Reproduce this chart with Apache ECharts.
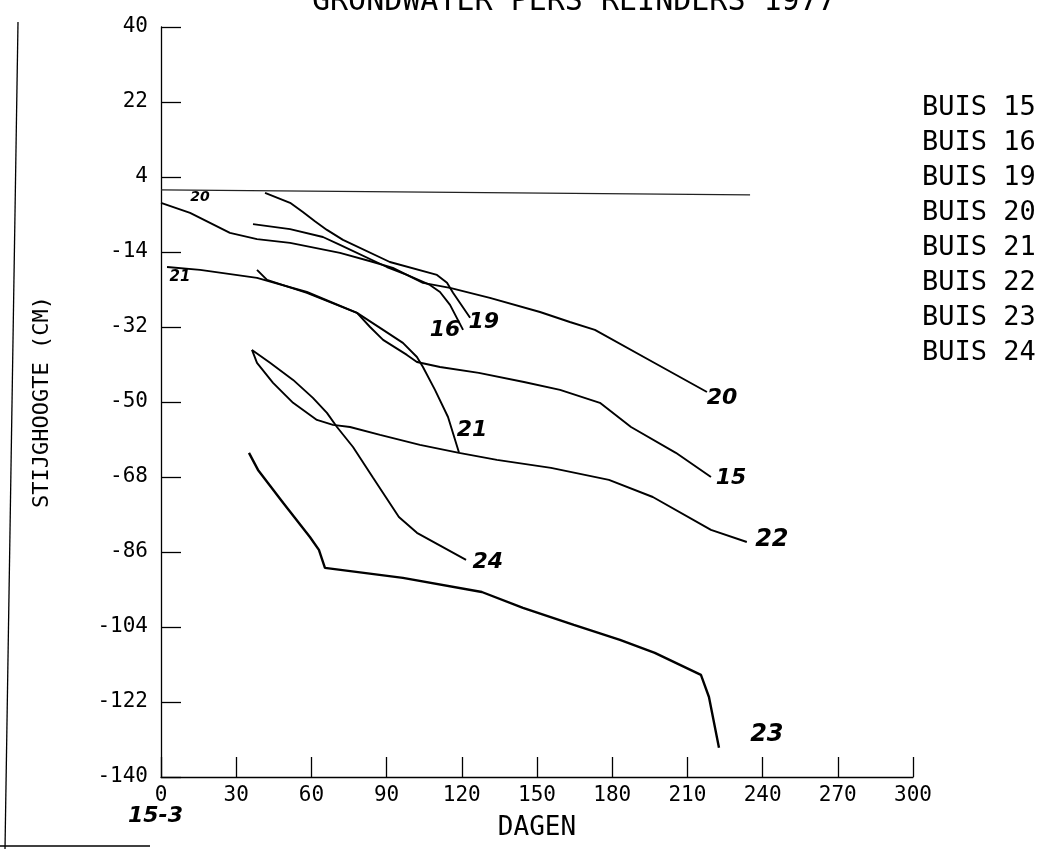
<!DOCTYPE html>
<html>
<head>
<meta charset="utf-8">
<script src="https://cdn.jsdelivr.net/npm/echarts@6/dist/echarts.min.js"></script>
<style>
html,body{margin:0;padding:0;background:#fff;}
#chart{width:1054px;height:849px;}
</style>
</head>
<body>
<div id="chart"></div>
<script>
// ---- data (days since 15-3, stijghoogte in cm) ----
const seriesNames = ['BUIS 15','BUIS 16','BUIS 19','BUIS 20','BUIS 21','BUIS 22','BUIS 23','BUIS 24'];
const xTicks = [0,30,60,90,120,150,180,210,240,270,300];
const yTicks = [40,22,4,-14,-32,-50,-68,-86,-104,-122,-140];

const buis15 = [[38.3,-18.3],[42.3,-20.7],[58.2,-23.8],[78.2,-28.6],[83.4,-32.0],[88.6,-35.1],[98.1,-38.7],[102.1,-40.4],[111.3,-41.6],[126.8,-43.0],[144.8,-45.2],[159.2,-47.1],[175.1,-50.2],[187.5,-56.0],[205.4,-62.2],[219.4,-68.0]];
const buis16 = [[36.7,-7.3],[51.5,-8.5],[64.6,-10.4],[71.4,-12.3],[90.1,-17.6],[98.1,-19.5],[107.3,-21.9],[111.3,-23.6],[115.3,-26.7],[120.5,-32.7]];
const buis19 = [[41.5,0.2],[51.5,-2.2],[56.6,-4.4],[61.4,-6.6],[66.2,-8.7],[72.6,-11.1],[91.3,-16.4],[110.1,-19.5],[114.1,-21.4],[116.5,-23.8],[123.3,-29.8]];
const buis20 = [[0,-2.2],[11.6,-4.6],[27.5,-9.4],[38.3,-10.9],[51.5,-11.8],[71.4,-14.2],[84.6,-16.4],[92.5,-17.8],[104.5,-21.4],[115.3,-22.6],[131.2,-25.0],[151.2,-28.4],[163.1,-30.8],[173.1,-32.7],[196.2,-40.4],[217.8,-47.6]];
const buis21 = [[2.4,-17.6],[15.6,-18.3],[38.3,-20.2],[58.2,-23.6],[78.2,-28.6],[88.6,-32.7],[96.5,-35.8],[102.1,-39.2],[104.5,-41.6],[109.3,-47.1],[114.5,-53.6],[118.9,-62.2]];
const buis22 = [[36.3,-37.5],[38.3,-40.6],[44.7,-45.4],[52.7,-50.2],[62.2,-54.3],[68.6,-55.5],[75.4,-56.0],[87.4,-57.9],[103.3,-60.3],[118.9,-62.2],[134.0,-63.9],[155.6,-65.8],[178.7,-68.7],[196.2,-72.8],[219.4,-80.7],[233.7,-83.6]];
const buis23 = [[35.1,-62.2],[38.7,-66.3],[48.7,-74.2],[59.4,-82.4],[63.0,-85.5],[65.4,-89.8],[96.5,-92.2],[128.0,-95.6],[144.4,-99.4],[164.7,-103.5],[183.1,-107.1],[197.0,-110.2],[215.4,-115.5],[218.6,-120.8],[222.6,-133.0]];
const buis24 = [[36.3,-37.5],[43.5,-40.6],[52.7,-44.7],[60.6,-49.0],[66.2,-52.6],[70.2,-56.0],[76.6,-60.8],[84.6,-68.2],[94.9,-77.6],[102.1,-81.4],[121.7,-87.9]];
const referenceLine = [[0,0.9],[235,-0.3]];

const curveLabelTexts = ['20','21','16','19','20','21','15','22','24','23'];
const curveLabelAt = [[15.6,-0.8],[7.6,-20.0],[113.3,-32.7],[128.8,-30.8],[223.8,-49.0],[124.1,-56.7],[227.4,-68.2],[243.7,-83.1],[130.4,-88.4],[241.7,-129.9]];
const curveLabelSizes = [14,15,22,22,22,22,22,24,22,24];

const seriesData = [buis15,buis16,buis19,buis20,buis21,buis22,buis23,buis24];

const MONO = '"DejaVu Sans Mono", monospace';
const INK = '#000';

const chart = echarts.init(document.getElementById('chart'), null, {renderer:'canvas'});

const lineSeries = seriesNames.map((n,i)=>({
  name:n, type:'line', data:seriesData[i], symbol:'none', smooth:false,
  lineStyle:{color:INK, width: n==='BUIS 23' ? 2.4 : 1.9}, itemStyle:{color:INK},
  emphasis:{disabled:true}, animation:false
}));

lineSeries.push({
  name:'ref', type:'line', data:referenceLine, symbol:'none',
  lineStyle:{color:'#222', width:1.3}, emphasis:{disabled:true}, animation:false
});

lineSeries.push({
  name:'labels', type:'scatter', symbolSize:0, animation:false, silent:true,
  itemStyle:{color:INK, opacity:1},
  data: curveLabelTexts.map((t,i)=>({value:curveLabelAt[i], name:t,
    label:{fontSize:curveLabelSizes[i]}})),
  label:{show:true, position:'inside', formatter:p=>p.name, color:INK, opacity:1,
    fontFamily:'"DejaVu Sans", sans-serif', fontStyle:'italic', fontWeight:600, fontSize:22}
});

const option = {
  backgroundColor:'#fff',
  animation:false,
  grid:{left:161, top:27, width:752, height:750, containLabel:false},
  legend:{
    data:seriesNames, orient:'vertical', left:912, top:89,
    icon:'none', itemWidth:0, itemHeight:0, itemGap:8,
    selectedMode:false,
    textStyle:{fontFamily:MONO, fontSize:27, color:INK, lineHeight:27}
  },
  xAxis:{
    type:'value', min:0, max:300, interval:30,
    name:'DAGEN', nameLocation:'middle', nameGap:38,
    nameTextStyle:{fontFamily:MONO, fontSize:26, color:INK},
    axisLine:{show:true, onZero:false, lineStyle:{color:INK, width:1.3}},
    axisTick:{show:true, inside:true, length:20, lineStyle:{color:INK, width:1.3}},
    axisLabel:{fontFamily:MONO, fontSize:21, color:INK, margin:8, showMinLabel:true, showMaxLabel:true},
    splitLine:{show:false}
  },
  yAxis:{
    type:'value', min:-140, max:40, interval:18,
    name:'STIJGHOOGTE (CM)', nameLocation:'middle', nameGap:108, nameRotate:90,
    nameTextStyle:{fontFamily:MONO, fontSize:22, color:INK},
    axisLine:{show:true, onZero:false, lineStyle:{color:INK, width:1.3}},
    axisTick:{show:true, inside:true, length:20, lineStyle:{color:INK, width:1.3}},
    axisLabel:{fontFamily:MONO, fontSize:21, color:INK, margin:13, showMinLabel:true, showMaxLabel:true},
    splitLine:{show:false}
  },
  graphic:[
    {type:'text', left:312, top:-13, style:{text:'GRONDWATER PERS REINDERS 1977', font:'30px "DejaVu Sans Mono", monospace', fill:INK}},
    {type:'text', left:128, top:805, style:{text:'15-3', font:'italic 600 22px "DejaVu Sans", sans-serif', fill:INK}},
    {type:'line', shape:{x1:18, y1:22, x2:5, y2:849}, style:{stroke:INK, lineWidth:1.3}},
    {type:'line', shape:{x1:0, y1:846, x2:150, y2:846}, style:{stroke:INK, lineWidth:1.3}}
  ],
  series: lineSeries
};
chart.setOption(option);
</script>
</body>
</html>
